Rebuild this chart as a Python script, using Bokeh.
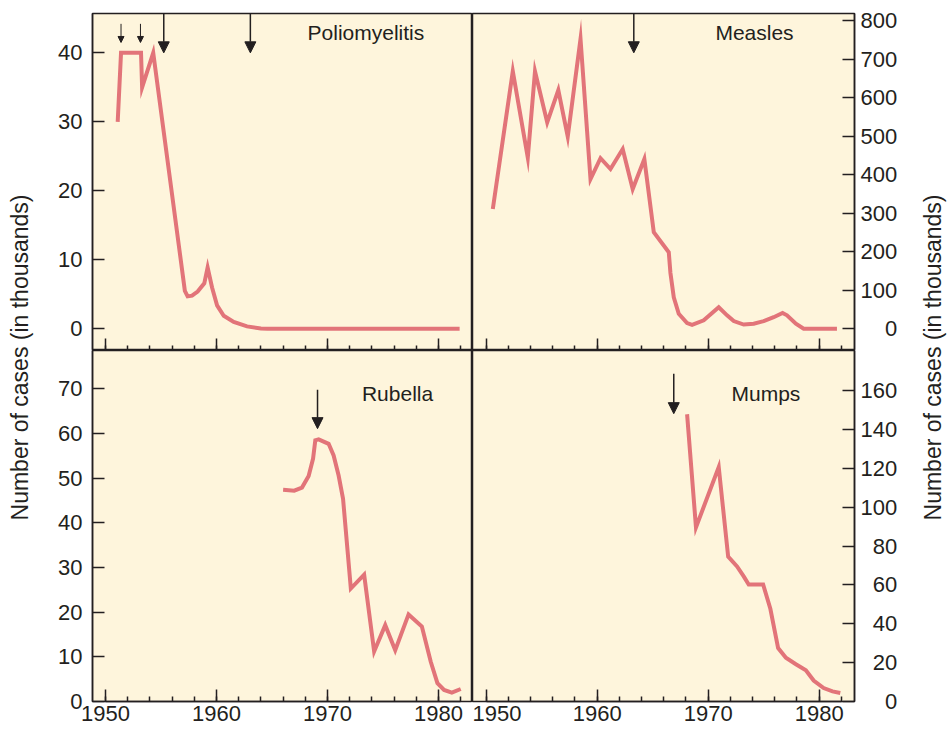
import math
from bokeh.plotting import figure
from bokeh.models import Range1d, LinearAxis, FixedTicker, Label, Arrow, NormalHead
from bokeh.layouts import row, column
from bokeh.embed import file_html
from bokeh.resources import INLINE

# ---------------- data (thousands of cases) ----------------
polio_year = [1951.1, 1951.4, 1953.2, 1953.3, 1954.3, 1957.15, 1957.4, 1957.8, 1958.3,
              1958.9, 1959.2, 1959.6, 1960.05, 1960.65, 1961.55, 1962.75, 1964.0, 1964.6, 1981.9]
polio_cases = [30, 40, 40, 35, 40, 5.5, 4.7, 4.8, 5.4,
               6.6, 8.9, 6.0, 3.4, 1.9, 1.0, 0.35, 0.05, 0, 0]

measles_year = [1950.6, 1952.4, 1953.75, 1954.4, 1955.5, 1956.5, 1957.35, 1958.5, 1959.4,
                1960.3, 1961.2, 1962.3, 1963.2, 1964.25, 1965.1, 1966.45, 1966.6, 1966.9,
                1967.35, 1968.1, 1968.55, 1969.6, 1970.95, 1971.7, 1972.3, 1973.2, 1974.1,
                1975.0, 1975.9, 1976.7, 1977.1, 1977.9, 1978.6, 1981.6]
measles_cases = [311, 669, 445, 669, 536, 620, 499, 753, 389,
                 443, 415, 467, 363, 441, 251, 199, 145, 82,
                 39, 15, 10, 22, 56, 35, 20, 11, 13,
                 20, 30, 41, 35, 13, 0, 0]

rubella_year = [1966.0, 1967.0, 1967.7, 1968.3, 1968.7, 1968.9, 1969.2, 1970.1, 1970.55,
                1971.0, 1971.4, 1972.1, 1973.3, 1974.2, 1975.2, 1976.1, 1977.3, 1978.5,
                1979.3, 1979.9, 1980.5, 1981.2, 1982.0]
rubella_cases = [47.4, 47.2, 47.9, 50.5, 54.4, 58.5, 58.7, 57.7, 55.1,
                 50.6, 45.4, 25.3, 28.4, 11.2, 17.1, 11.5, 19.5, 16.8,
                 8.9, 4.1, 2.6, 2.0, 2.8]

mumps_year = [1968.1, 1968.9, 1970.95, 1971.8, 1972.6, 1973.2, 1973.65, 1974.95, 1975.6,
              1976.3, 1977.0, 1977.9, 1978.8, 1979.5, 1980.4, 1981.2, 1981.9]
mumps_cases = [147.8, 89.6, 120.6, 74.5, 69.5, 64.4, 60.2, 60.2, 47.7,
               27.5, 22.5, 19.2, 16.1, 10.8, 6.9, 5.2, 4.4]

# vaccine-introduction arrows (years)
polio_small_arrows = [1951.4, 1953.15]
polio_big_arrows = [1955.25, 1963.05]
measles_arrows = [1963.3]
rubella_arrows = [1969.1]
mumps_arrows = [1966.9]

x_major = [1950, 1960, 1970, 1980]
x_minor = list(range(1950, 1983, 2))
polio_ticks = [0, 10, 20, 30, 40]
measles_ticks = [0, 100, 200, 300, 400, 500, 600, 700, 800]
rubella_ticks = [0, 10, 20, 30, 40, 50, 60, 70]
mumps_ticks = [0, 20, 40, 60, 80, 100, 120, 140, 160]

titles = ["Poliomyelitis", "Measles", "Rubella", "Mumps"]
y_title = "Number of cases (in thousands)"

# ---------------- style ----------------
FONT = "Liberation Sans"
INK = "#231f20"
CREAM = "#fef5dc"
RED = "#e27479"
FS = "21px"
FS_TICK = "22px"


def panel(width, height, xr, yr, mb):
    p = figure(width=width, height=height, x_range=Range1d(*xr), y_range=Range1d(*yr),
               output_backend="svg", toolbar_location=None,
               x_axis_type=None, y_axis_type=None, min_border=0,
               min_border_left=mb[0], min_border_right=mb[1],
               min_border_top=mb[2], min_border_bottom=mb[3])
    p.background_fill_color = CREAM
    p.border_fill_color = "white"
    p.outline_line_color = INK
    p.outline_line_width = 1.5
    return p


def style(ax):
    ax.axis_line_color = INK
    ax.axis_line_width = 1.5
    ax.major_tick_line_color = INK
    ax.major_tick_line_width = 1.5
    ax.major_tick_in = 12
    ax.major_tick_out = 0
    ax.minor_tick_line_color = INK
    ax.minor_tick_line_width = 1.5
    ax.minor_tick_in = 5
    ax.minor_tick_out = 0
    ax.major_label_text_font = FONT
    ax.major_label_text_font_size = FS_TICK
    ax.major_label_text_color = INK


def xaxis(p, labels):
    ax = LinearAxis(ticker=FixedTicker(ticks=x_major, minor_ticks=x_minor), bounds=(1950, 1982))
    style(ax)
    if labels:
        ax.major_label_standoff = 4
    else:
        ax.major_label_text_font_size = "1px"
        ax.major_label_text_color = None
        ax.major_label_standoff = 0
    p.add_layout(ax, "below")


def yaxis(p, ticks, side):
    ax = LinearAxis(ticker=FixedTicker(ticks=ticks, minor_ticks=[]))
    style(ax)
    ax.minor_tick_line_color = None
    if side == "left":
        ax.major_label_standoff = 10
    else:
        ax.major_label_standoff = 6
        width = max(len(str(t)) for t in ticks)
        ax.major_label_overrides = {t: "\u2007" * (width - len(str(t))) + str(t) for t in ticks}
    p.add_layout(ax, side)


def arrows(p, xs, y0, y1, size, lw):
    for x in xs:
        p.add_layout(Arrow(end=NormalHead(size=size, fill_color=INK, line_color=INK, line_width=1),
                           x_start=x, y_start=y0, x_end=x, y_end=y1,
                           line_color=INK, line_width=lw))


def title(p, x, y, text):
    p.add_layout(Label(x=x, y=y, text=text, text_font=FONT, text_font_size=FS,
                       text_color=INK, text_align="left", text_baseline="alphabetic"))


XL = (1948.83, 1983.06)
XR = (1948.77, 1983.18)

# top-left: polio
p1 = panel(430, 350, XL, (-3.14, 45.7), (50, 0, 13, 0))
p1.line(polio_year, polio_cases, line_color=RED, line_width=4, line_join="miter")
xaxis(p1, False)
yaxis(p1, polio_ticks, "left")
arrows(p1, polio_small_arrows, 44.2, 41.5, 6, 1)
arrows(p1, polio_big_arrows, 45.7, 40.0, 11, 1.5)
title(p1, 1968.2, 42.9, titles[0])

# top-right: measles
p2 = panel(432, 350, XR, (-56.4, 819), (0, 50, 13, 0))
p2.line(measles_year, measles_cases, line_color=RED, line_width=4, line_join="miter")
xaxis(p2, False)
yaxis(p2, measles_ticks, "right")
arrows(p2, measles_arrows, 819, 717, 11, 1.5)
title(p2, 1970.65, 770, titles[1])

# bottom-left: rubella
p3 = panel(430, 380, XL, (0, 78.6), (50, 0, 0, 29))
p3.line(rubella_year, rubella_cases, line_color=RED, line_width=4, line_join="miter")
xaxis(p3, True)
yaxis(p3, rubella_ticks, "left")
arrows(p3, rubella_arrows, 69.8, 61.1, 11, 1.5)
title(p3, 1973.1, 69.0, titles[2])

# bottom-right: mumps
p4 = panel(432, 380, XR, (0, 180.6), (0, 50, 0, 29))
p4.line(mumps_year, mumps_cases, line_color=RED, line_width=4, line_join="miter")
xaxis(p4, True)
yaxis(p4, mumps_ticks, "right")
arrows(p4, mumps_arrows, 168.7, 148.1, 11, 1.5)
title(p4, 1972.1, 158.6, titles[3])


def side_title(width, height, xfrac):
    f = figure(width=width, height=height, x_range=Range1d(0, 1), y_range=Range1d(0, 1),
               x_axis_type=None, y_axis_type=None, toolbar_location=None,
               output_backend="svg", min_border=0)
    f.outline_line_color = None
    f.background_fill_color = "white"
    f.border_fill_color = "white"
    f.add_layout(Label(x=xfrac, y=0.511, text=y_title, angle=math.pi / 2,
                       text_align="center", text_baseline="middle", text_font=FONT,
                       text_font_size="23px", text_color=INK))
    return f


left = side_title(42, 730, 0.476)
right = side_title(43, 730, 0.674)

layout = row(left, column(row(p1, p2), row(p3, p4)), right)

open("out.html", "w").write(file_html(layout, INLINE))
